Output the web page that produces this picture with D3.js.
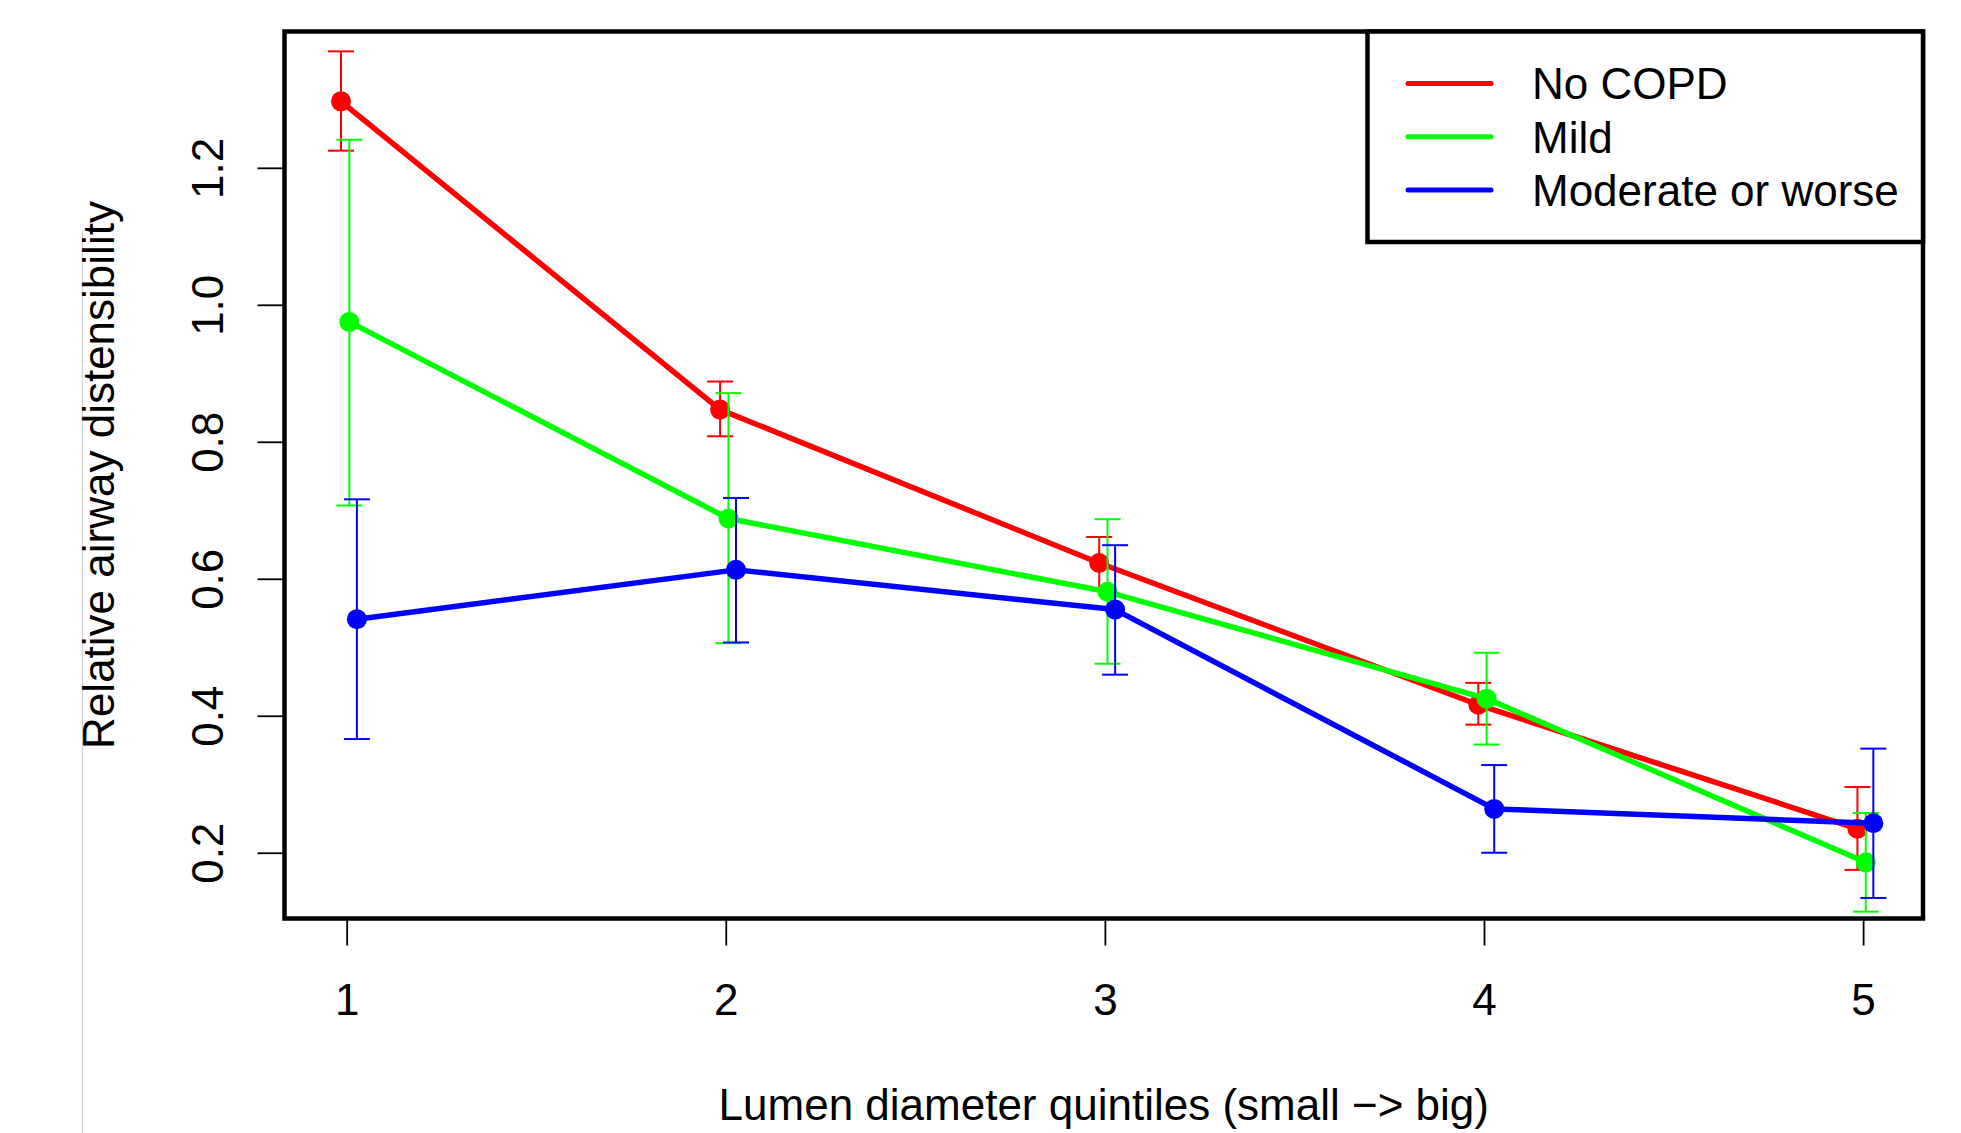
<!DOCTYPE html>
<html>
<head>
<meta charset="utf-8">
<script src="https://cdn.jsdelivr.net/npm/d3@7/dist/d3.min.js"></script>
<style>
  html, body { margin: 0; padding: 0; background: #fff; }
  svg { display: block; font-family: "Liberation Sans", Arial, Helvetica, sans-serif; }
</style>
</head>
<body>
<div id="chart"></div>
<script>
// quintile categories and tick labels
const quintiles = [1, 2, 3, 4, 5];
const yTicks = [0.2, 0.4, 0.6, 0.8, 1.0, 1.2];
const groups = ["No COPD", "Mild", "Moderate or worse"];

// means and error bar ends
const noCopdMean = [1.297, 0.847, 0.623, 0.416, 0.235];
const noCopdLow = [1.225, 0.808, 0.585, 0.387, 0.175];
const noCopdHigh = [1.370, 0.888, 0.661, 0.448, 0.296];

const mildMean = [0.975, 0.688, 0.581, 0.425, 0.186];
const mildLow = [0.707, 0.506, 0.476, 0.358, 0.114];
const mildHigh = [1.241, 0.871, 0.687, 0.492, 0.258];

const moderateMean = [0.541, 0.613, 0.555, 0.264, 0.243];
const moderateLow = [0.366, 0.507, 0.460, 0.200, 0.134];
const moderateHigh = [0.716, 0.718, 0.649, 0.328, 0.352];

const groupColors = ["#ff0000", "#00ff00", "#0000ff"];
const dodge = [-0.015, 0.007, 0.027]; // small horizontal shift per group

const width = 1961;
const height = 1133;
const box = { left: 284.5, right: 1923, top: 31.5, bottom: 918.5 };
const fontSize = 44;

const series = [
  { name: groups[0], mean: noCopdMean, low: noCopdLow, high: noCopdHigh },
  { name: groups[1], mean: mildMean, low: mildLow, high: mildHigh },
  { name: groups[2], mean: moderateMean, low: moderateLow, high: moderateHigh },
].map((s, i) => ({
  ...s,
  color: groupColors[i],
  points: quintiles.map((q, j) => ({
    x: q + dodge[i],
    y: s.mean[j],
    lo: s.low[j],
    hi: s.high[j],
  })),
}));

const x = d3.scaleLinear().domain([0.836, 5.158]).range([box.left, box.right]);
const y = d3.scaleLinear().domain([0.104, 1.399]).range([box.bottom, box.top]);

const svg = d3
  .select("#chart")
  .append("svg")
  .attr("width", width)
  .attr("height", height);

// faint scan line at the far left of the original
svg
  .append("line")
  .attr("x1", 82.5)
  .attr("x2", 82.5)
  .attr("y1", 231)
  .attr("y2", height)
  .attr("stroke", "#d0d0d0")
  .attr("stroke-width", 1.2);

// axes
const xAxis = svg
  .append("g")
  .attr("transform", `translate(0,${box.bottom})`)
  .call(d3.axisBottom(x).tickValues(quintiles).tickFormat(d3.format("d")).tickSize(27).tickPadding(0));

xAxis.select(".domain").remove();
xAxis
  .selectAll(".tick line")
  .attr("stroke", "#000")
  .attr("stroke-width", 1.8);
xAxis
  .selectAll(".tick text")
  .attr("y", 96)
  .attr("dy", 0)
  .attr("fill", "#000")
  .style("font-size", fontSize + "px")
  .style("font-family", "inherit");

const yAxis = svg
  .append("g")
  .attr("transform", `translate(${box.left},0)`)
  .call(d3.axisLeft(y).tickValues(yTicks).tickFormat(d3.format(".1f")).tickSize(27).tickPadding(0));

yAxis.select(".domain").remove();
yAxis
  .selectAll(".tick line")
  .attr("stroke", "#000")
  .attr("stroke-width", 1.8);
yAxis
  .selectAll(".tick text")
  .attr("x", 0)
  .attr("dy", 0)
  .attr("transform", "translate(-62,0) rotate(-90)")
  .attr("text-anchor", "middle")
  .attr("fill", "#000")
  .style("font-size", fontSize + "px")
  .style("font-family", "inherit");

// axis titles
svg
  .append("text")
  .attr("x", (box.left + box.right) / 2)
  .attr("y", 1120)
  .attr("text-anchor", "middle")
  .style("font-size", fontSize + "px")
  .text("Lumen diameter quintiles (small \u2212> big)");

svg
  .append("text")
  .attr("transform", `translate(114,${(box.top + box.bottom) / 2}) rotate(-90)`)
  .attr("text-anchor", "middle")
  .style("font-size", fontSize + "px")
  .text("Relative airway distensibility");

// data: line, points, error bars per group
const line = d3
  .line()
  .x((d) => x(d.x))
  .y((d) => y(d.y));

const capHalf = 13;

const groupsG = svg
  .selectAll(".series")
  .data(series)
  .join("g")
  .attr("class", "series");

groupsG
  .append("path")
  .attr("d", (d) => line(d.points))
  .attr("fill", "none")
  .attr("stroke", (d) => d.color)
  .attr("stroke-width", 5.5)
  .attr("stroke-linejoin", "round");

groupsG.each(function (s) {
  const g = d3.select(this);

  const bars = g
    .selectAll(".errbar")
    .data(s.points)
    .join("g")
    .attr("class", "errbar")
    .attr("stroke", s.color)
    .attr("stroke-width", 2);

  bars
    .append("line")
    .attr("x1", (d) => x(d.x))
    .attr("x2", (d) => x(d.x))
    .attr("y1", (d) => y(d.lo))
    .attr("y2", (d) => y(d.hi));

  bars
    .append("line")
    .attr("x1", (d) => x(d.x) - capHalf)
    .attr("x2", (d) => x(d.x) + capHalf)
    .attr("y1", (d) => y(d.hi))
    .attr("y2", (d) => y(d.hi));

  bars
    .append("line")
    .attr("x1", (d) => x(d.x) - capHalf)
    .attr("x2", (d) => x(d.x) + capHalf)
    .attr("y1", (d) => y(d.lo))
    .attr("y2", (d) => y(d.lo));

  g.selectAll(".dot")
    .data(s.points)
    .join("circle")
    .attr("class", "dot")
    .attr("cx", (d) => x(d.x))
    .attr("cy", (d) => y(d.y))
    .attr("r", 10)
    .attr("fill", s.color);
});

// plot frame
svg
  .append("rect")
  .attr("x", box.left)
  .attr("y", box.top)
  .attr("width", box.right - box.left)
  .attr("height", box.bottom - box.top)
  .attr("fill", "none")
  .attr("stroke", "#000")
  .attr("stroke-width", 4.5);

// legend, top right
const legend = { left: 1367.5, bottom: 242, rowGap: 53.3, firstRow: 83.5 };

svg
  .append("rect")
  .attr("x", legend.left)
  .attr("y", box.top)
  .attr("width", box.right - legend.left)
  .attr("height", legend.bottom - box.top)
  .attr("fill", "#fff")
  .attr("stroke", "#000")
  .attr("stroke-width", 4.5);

const rows = svg
  .selectAll(".legend-row")
  .data(series)
  .join("g")
  .attr("class", "legend-row")
  .attr("transform", (d, i) => `translate(0,${legend.firstRow + i * legend.rowGap})`);

rows
  .append("line")
  .attr("x1", 1408)
  .attr("x2", 1491)
  .attr("y1", 0)
  .attr("y2", 0)
  .attr("stroke", (d) => d.color)
  .attr("stroke-width", 5)
  .attr("stroke-linecap", "round");

rows
  .append("text")
  .attr("x", 1532)
  .attr("y", 0)
  .attr("dy", "0.36em")
  .style("font-size", fontSize + "px")
  .text((d) => d.name);
</script>
</body>
</html>
